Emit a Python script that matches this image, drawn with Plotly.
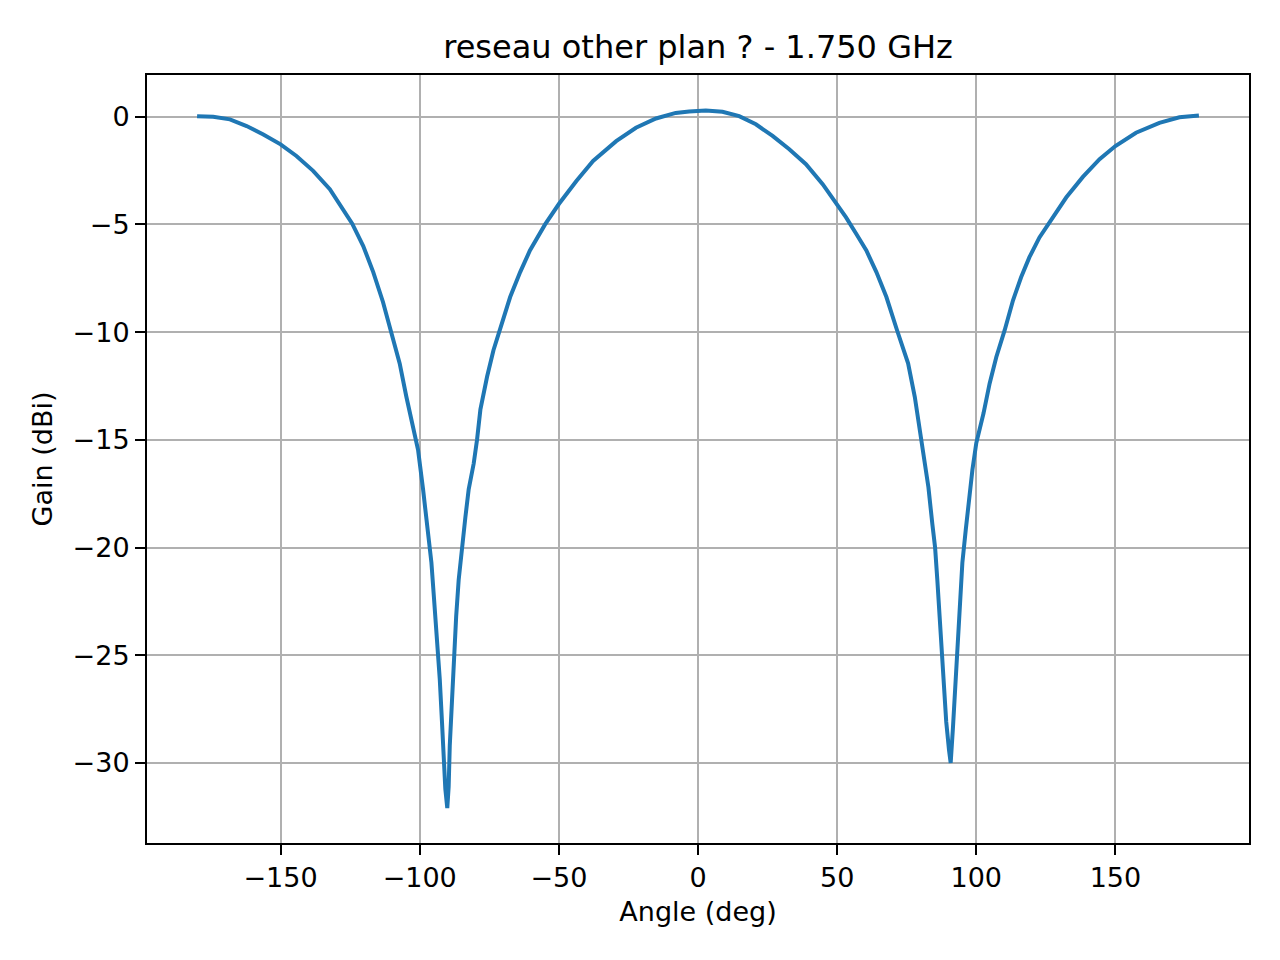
import plotly.graph_objects as go

# gain pattern (angle in deg, gain in dBi)
angle = [-180, -174.2, -168.2, -162.2, -156.2, -150, -144.3, -138.3, -132.3, -128.1,
         -124.3, -120.3, -116.7, -113.2, -110.2, -107.2, -104.8, -102.2, -100.6, -98.8,
         -97.3, -95.8, -94.9, -93.8, -92.8, -92.0, -91.3, -90.8, -90.1, -89.6,
         -89.2, -88.4, -87.7, -86.9, -86.0, -84.8, -83.6, -82.4, -80.6, -79.4,
         -78.2, -75.8, -73.5, -70.5, -67.5, -63.9, -60.4, -55, -50, -43.7,
         -37.7, -29.4, -22.3, -15.1, -8.0, -3.2, 0, 2.8, 8.8, 14.8,
         20.8, 26.8, 32.8, 38.8, 44.8, 50, 53.2, 56.9, 60.5, 64.1,
         67.7, 71.5, 75.5, 77.9, 79.7, 81.2, 82.8, 84.2, 85.2,
         86.0, 86.9, 87.6, 88.4, 89.2, 90.2, 90.8, 91.6, 92.4, 93.2,
         94.0, 95.0, 96.2, 97.4, 98.6, 100, 102.6, 104.8, 107.2,
         110.2, 113.2, 116.1, 119.1, 122.7, 126.3, 132.3, 138.3, 144.3, 150,
         157.4, 165.8, 173, 180]
gain = [0.03, 0.0, -0.12, -0.43, -0.82, -1.28, -1.82, -2.51, -3.36, -4.2,
        -4.95, -6.0, -7.21, -8.6, -10.0, -11.45, -13.0, -14.4, -15.46, -17.3,
        -19.2, -20.7, -22.3, -24.1, -26.1, -28.1, -30.0, -31.2, -32.1, -31.1,
        -29.2, -26.9, -25.0, -23.2, -21.5, -19.9, -18.6, -17.3, -16.1, -15.0,
        -13.6, -12.07, -10.84, -9.6, -8.37, -7.21, -6.21, -5.01, -4.05, -2.98,
        -2.05, -1.13, -0.51, -0.08, 0.18, 0.25, 0.29, 0.29, 0.23, 0.03,
        -0.35, -0.89, -1.51, -2.2, -3.13, -4.05, -4.67, -5.44, -6.21, -7.21,
        -8.37, -9.9, -11.45, -13.0, -14.54, -15.8, -17.2, -18.9, -20.0,
        -21.5, -23.3, -25.0, -26.6, -28.1, -29.4, -30.0, -28.4, -26.6, -24.6,
        -22.7, -20.7, -19.2, -17.6, -16.4, -15.15, -13.77, -12.38, -11.15,
        -9.91, -8.52, -7.45, -6.52, -5.6, -4.9, -3.75, -2.79, -1.97, -1.36,
        -0.74, -0.28, -0.02, 0.06]

x_ticks = [-150, -100, -50, 0, 50, 100, 150]
y_ticks = [-30, -25, -20, -15, -10, -5, 0]

font = "DejaVu Sans"

fig = go.Figure()
fig.add_trace(go.Scatter(x=angle, y=gain, mode="lines",
                         line=dict(color="#1f77b4", width=4)))

axis_style = dict(showline=True, mirror=True, linecolor="black", linewidth=2,
                  ticks="outside", ticklen=10, tickwidth=2, tickcolor="black",
                  showgrid=True, gridcolor="#b0b0b0", gridwidth=2,
                  zeroline=False, tickfont=dict(family=font, size=27, color="black"))

fig.update_xaxes(range=[-198, 198], tickvals=x_ticks,
                 title=dict(text="Angle (deg)", font=dict(family=font, size=27, color="black"), standoff=10),
                 **axis_style)
fig.update_yaxes(range=[-33.72, 1.94], tickvals=y_ticks,
                 title=dict(text="Gain (dBi)", font=dict(family=font, size=27, color="black"), standoff=12),
                 **axis_style)

# page has an 8px body margin, so the figure is a little smaller than the window
fig.update_layout(
    width=1272, height=952,
    margin=dict(l=139, r=31, t=67, b=117),
    paper_bgcolor="white", plot_bgcolor="white",
    showlegend=False,
    title=dict(text="reseau other plan ? - 1.750 GHz",
               x=(139 + 1241) / 2 / 1272, xanchor="center",
               y=1 - 39 / 952, yanchor="middle",
               font=dict(family=font, size=32, color="black")),
)

fig.write_html("out.html")
